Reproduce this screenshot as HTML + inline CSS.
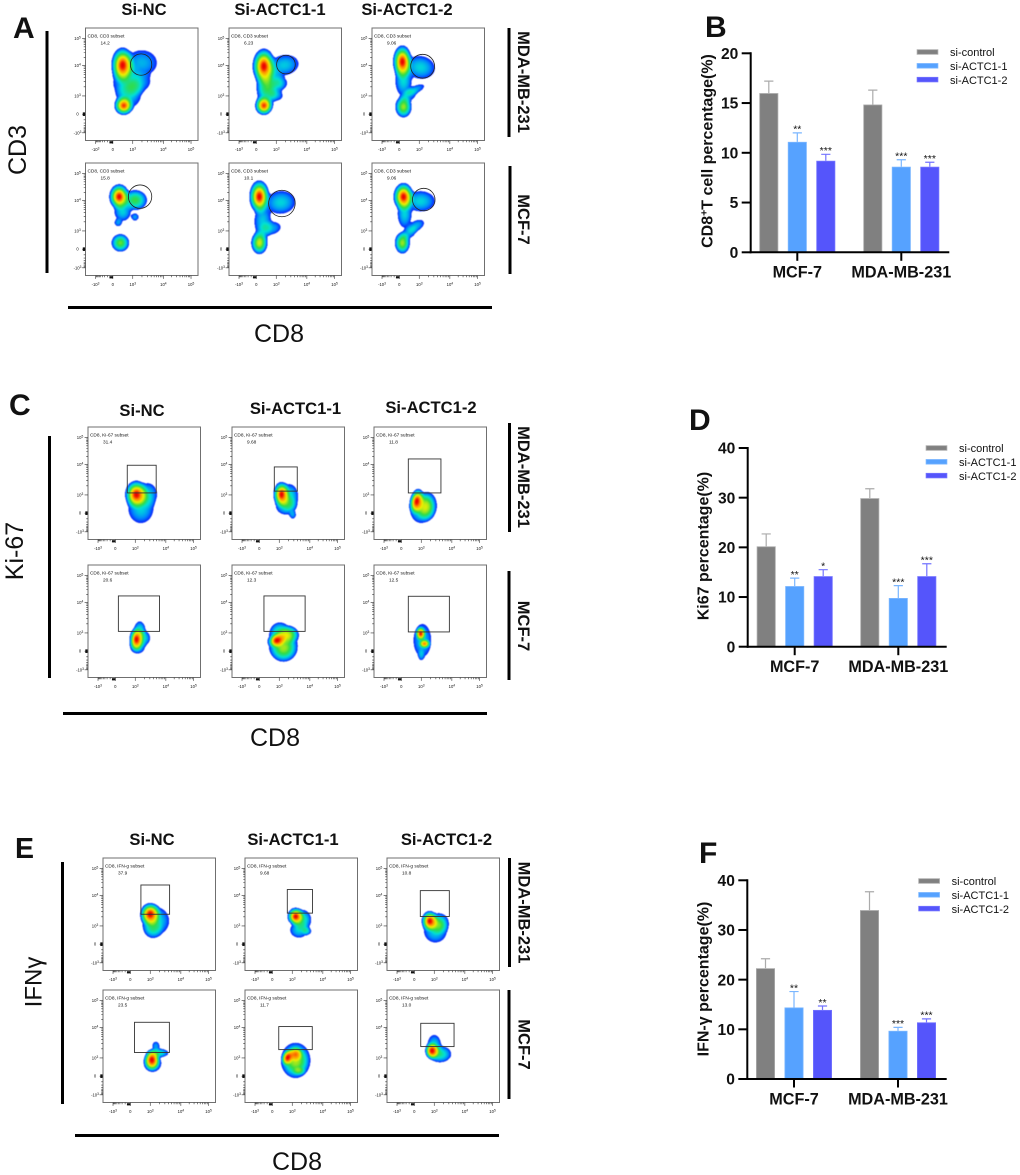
<!DOCTYPE html>
<html lang="en">
<head>
<meta charset="utf-8">
<title>CD8 flow cytometry panels</title>
<style>
html,body{margin:0;padding:0;background:#fff}
svg{display:block;filter:blur(.3px)}
text{font-family:"Liberation Sans",Arial,sans-serif;fill:#111}
.letter{font-size:30px;font-weight:700}
.col{font-size:16.6px;font-weight:700;text-anchor:middle}
.side{font-size:16.5px;font-weight:700;text-anchor:middle}
.marker{font-size:25px;text-anchor:middle}
</style>
</head>
<body>
<svg id="fig" xmlns="http://www.w3.org/2000/svg" width="1020" height="1175" viewBox="0 0 1020 1175">
<defs>
<radialGradient id="blob-gradient"></radialGradient>
<filter id="density-filter" x="0" y="0" width="100%" height="100%" color-interpolation-filters="sRGB">
<feColorMatrix type="matrix" values="0 0 0 1 0 0 0 0 1 0 0 0 0 1 0 0 0 0 0 1"/>
<feComponentTransfer><feFuncR id="tableR" type="table"/><feFuncG id="tableG" type="table"/><feFuncB id="tableB" type="table"/></feComponentTransfer>
<feGaussianBlur stdDeviation="0.6"/>
</filter>
</defs>
<rect width="1020" height="1175" fill="#fff"/>

<text class="letter" x="13" y="38">A</text>
<text class="letter" x="705" y="37">B</text>
<text class="letter" x="9" y="415">C</text>
<text class="letter" x="689" y="430">D</text>
<text class="letter" x="15" y="858" style="font-size:28.5px">E</text>
<text class="letter" x="699" y="863">F</text>

<text class="col" x="144" y="15">Si-NC</text>
<text class="col" x="280" y="15">Si-ACTC1-1</text>
<text class="col" x="407" y="15">Si-ACTC1-2</text>
<text class="col" x="142" y="416">Si-NC</text>
<text class="col" x="295.5" y="414">Si-ACTC1-1</text>
<text class="col" x="431" y="413">Si-ACTC1-2</text>
<text class="col" x="152" y="845">Si-NC</text>
<text class="col" x="293" y="845">Si-ACTC1-1</text>
<text class="col" x="446.5" y="845">Si-ACTC1-2</text>

<rect x="45.5" y="31" width="3" height="242" fill="#000"/>
<rect x="48" y="436" width="3" height="242" fill="#000"/>
<rect x="61" y="862" width="3" height="242" fill="#000"/>
<text class="marker" transform="translate(26 150) rotate(-90)">CD3</text>
<text class="marker" transform="translate(23 551) rotate(-90)">Ki-67</text>
<text class="marker" transform="translate(41.5 982) rotate(-90)" style="font-size:24px">IFNγ</text>

<rect x="68" y="306" width="424" height="3" fill="#000"/>
<rect x="63" y="712" width="424" height="3" fill="#000"/>
<rect x="75" y="1134" width="424" height="3" fill="#000"/>
<text class="marker" x="279" y="342">CD8</text>
<text class="marker" x="275" y="746">CD8</text>
<text class="marker" x="297" y="1170">CD8</text>

<rect x="507.5" y="28" width="3" height="109" fill="#000"/>
<rect x="508.5" y="166" width="3" height="108" fill="#000"/>
<rect x="508" y="423" width="3" height="109" fill="#000"/>
<rect x="507.5" y="571" width="3" height="109" fill="#000"/>
<rect x="508" y="858" width="3" height="109" fill="#000"/>
<rect x="507.5" y="990" width="3" height="109" fill="#000"/>
<text class="side" transform="translate(518 82) rotate(90)">MDA-MB-231</text>
<text class="side" transform="translate(518 219.5) rotate(90)">MCF-7</text>
<text class="side" transform="translate(518 477) rotate(90)">MDA-MB-231</text>
<text class="side" transform="translate(518 626) rotate(90)">MCF-7</text>
<text class="side" transform="translate(518.5 912.5) rotate(90)">MDA-MB-231</text>
<text class="side" transform="translate(518.5 1044.5) rotate(90)">MCF-7</text>
</svg>

<script>
/* ---------- bar chart data ---------- */
const groupLabels = ['MCF-7', 'MDA-MB-231'];
const seriesLabels = ['si-control', 'si-ACTC1-1', 'si-ACTC1-2'];

const cd8Ticks = [0, 5, 10, 15, 20];
const cd8Control = [16, 14.85];
const cd8Actc1 = [11.1, 8.6];
const cd8Actc2 = [9.2, 8.6];
const cd8ControlErr = [1.2, 1.45];
const cd8Actc1Err = [0.9, 0.7];
const cd8Actc2Err = [0.65, 0.45];
const cd8Stars = [['', ''], ['**', '***'], ['***', '***']];

const ki67Ticks = [0, 10, 20, 30, 40];
const ki67Control = [20.2, 29.9];
const ki67Actc1 = [12.2, 9.8];
const ki67Actc2 = [14.2, 14.2];
const ki67ControlErr = [2.5, 1.9];
const ki67Actc1Err = [1.6, 2.5];
const ki67Actc2Err = [1.3, 2.5];
const ki67Stars = [['', ''], ['**', '***'], ['*', '***']];

const ifngTicks = [0, 10, 20, 30, 40];
const ifngControl = [22.3, 34];
const ifngActc1 = [14.4, 9.7];
const ifngActc2 = [13.9, 11.4];
const ifngControlErr = [1.9, 3.7];
const ifngActc1Err = [3.2, 0.7];
const ifngActc2Err = [0.8, 0.7];
const ifngStars = [['', ''], ['**', '***'], ['**', '***']];

/* ---------- flow plot axis labels (percent of plot extent) ---------- */
const flowDecadeNames = ['-10', '0', '10', '10', '10'];
const flowDecadeExps = ['3', '', '3', '4', '5'];
const flowXDecades = [8.9, 24.3, 42, 69.2, 93.8];
const flowYDecades = [93.2, 76.6, 60.4, 33.4, 9.5];

/* ---------- flow plots: gate and density blobs [cx, cy, rx, ry, rot, peak] in percent of plot ---------- */
const cd3Percent = [['14.2', '6.23', '9.06'], ['15.8', '10.1', '9.06']];
const ki67Percent = [['31.4', '9.68', '11.8'], ['20.6', '12.3', '12.5']];
const ifngPercent = [['37.9', '9.68', '10.8'], ['23.5', '11.7', '13.0']];

const cd3Gates = [
  [[49.4, 32.5, 9.5], [50.6, 32.5, 8.3], [45, 34, 10.6]],
  [[48.5, 29.9, 10.4], [47, 36, 11.8], [46, 32.5, 10]]
];
const ki67Gates = [
  [[34.9, 34, 60.6, 58.6], [37.6, 35.5, 58, 57], [30.5, 28.4, 59.5, 58.6]],
  [[27, 27.5, 63.6, 59], [28.4, 27.5, 65, 59], [30.5, 27.8, 67, 59.5]]
];
const ifngGates = [
  [[33.7, 24, 59.2, 50], [37.6, 28, 60, 49], [29.6, 29, 55.4, 52]],
  [[28, 28.7, 59, 55.6], [30, 32.5, 59.8, 53], [30, 29.6, 59.6, 50.3]]
];

const cd3Blobs = [[
  [[33,33,9,14,0,1],[37,48,11,13,0,.42],[34,69,7.5,7.5,0,.95],[50,31,12,10,0,.34],[48,49,9,7,-30,.32],[39,60,9,10,25,.32]],
  [[31,34,9,14,0,1],[36,48,10,12,0,.5],[31,69,7,7.5,0,.95],[33,58,7,12,0,.38],[49,33,11.5,8,-10,.38],[46,49,5,5,0,.3],[42,60,5,4,0,.3]],
  [[27,30,7.5,13,0,1],[28,46,6.5,13,0,.42],[28,70,6.5,8.5,0,.7],[43,35,11.5,9,10,.4],[38,55,8,3,-25,.32],[33,60,6,4,-35,.28]]
],[
  [[30,30,8,10,0,1],[44,33,9.5,8,0,.6],[33,43,6.5,7.5,0,.4],[29,53,2.8,2.8,0,.3],[44,48,2.8,2.8,0,.3],[31,71,7,7,35,.65]],
  [[27,30,8,13,0,1],[46,35,11.5,9,-5,.4],[30,52,6.5,13,0,.38],[37,58,8,5,-10,.34],[27,71,6.5,9,0,.75]],
  [[28,30,8,11,0,1],[43,34,11.5,8,0,.4],[29,45,5.5,11,0,.4],[27,71,6,8.5,0,.7],[39,56,7,4,-30,.34],[33,62,6,4,-35,.32]]
]];
const ki67Blobs = [[
  [[43,60,9,11,0,1],[47,72,10,12,0,.4],[53,60,7.5,9,0,.4]],
  [[44,60,6.5,10,0,1],[51,62,7,10,0,.45],[48,70,8,7,0,.45],[54,78,2.5,3,0,.3]],
  [[38,66,5.5,10,10,1],[47,70,8,11,0,.6],[42,73,9,11,0,.5]]
],[
  [[43,66,5.5,9,0,1],[46,58,4.5,7,0,.45],[49,65,5.5,6,0,.45],[44,72,6,6,0,.45]],
  [[40,67,7,5.5,-20,1],[50,62,8,6.5,0,.65],[46,74,10,10,0,.6],[42,60,6.5,7,0,.4],[45,68,11,13,0,.3]],
  [[41.5,61,4,5.5,0,.98],[45,70,4.5,3.6,0,.85],[43,67,7,13,0,.38],[42,80,2,3.6,0,.25]]
]];
const ifngBlobs = [[
  [[42,50,8,9,0,1],[47,56,10.5,11,0,.45],[44,63,6.5,7,0,.35]],
  [[45,52,6.5,7,0,1],[51,55,7,8,0,.5],[48,64,7,6,0,.4],[55,65,3.5,2.8,0,.35]],
  [[38,56,6.5,8,0,1],[46,58,8,8,0,.55],[43,65,9,9,0,.4]]
],[
  [[43.5,62,6,8,0,1],[47,50,2.8,3.6,0,.3],[49,56,8,3.6,0,.5],[44,65,7,7,0,.5]],
  [[38,60,4.5,6.5,20,1],[45,57,5.5,5.5,0,.8],[45,63,10,12,0,.6],[48,72,4.5,2.8,0,.4],[45,62,11,13,0,.3]],
  [[40,54,5.5,6.5,0,1],[42,50,5.5,9,0,.42],[47,57,9,6.5,0,.5]]
]];

/* ---------- helpers ---------- */
const SVG_NS = 'http://www.w3.org/2000/svg';
const fig = document.getElementById('fig');
function mk(tag, attrs, parent) {
  const n = document.createElementNS(SVG_NS, tag);
  for (const k in attrs) n.setAttribute(k, attrs[k]);
  (parent || fig).appendChild(n);
  return n;
}

/* ---------- density colour map ---------- */
const EDGE = 0.12;
const jetStops = [[EDGE,[10,30,250]],[.25,[0,130,255]],[.42,[0,225,215]],[.6,[50,220,70]],[.78,[240,240,0]],[.9,[255,140,0]],[.98,[240,15,0]],[1,[230,0,0]]];
function jet(v) {
  if (v < EDGE) return [255, 255, 255];
  for (let i = 1; i < jetStops.length; i++) {
    if (v <= jetStops[i][0]) {
      const a = jetStops[i - 1], b = jetStops[i], t = (v - a[0]) / (b[0] - a[0]);
      return a[1].map((c, j) => c + (b[1][j] - c) * t);
    }
  }
  return jetStops[jetStops.length - 1][1];
}
const tableSteps = 128;
const channels = [[], [], []];
for (let i = 0; i <= tableSteps; i++) {
  const c = jet(i / tableSteps);
  channels[0].push((c[0] / 255).toFixed(3));
  channels[1].push((c[1] / 255).toFixed(3));
  channels[2].push((c[2] / 255).toFixed(3));
}
document.getElementById('tableR').setAttribute('tableValues', channels[0].join(' '));
document.getElementById('tableG').setAttribute('tableValues', channels[1].join(' '));
document.getElementById('tableB').setAttribute('tableValues', channels[2].join(' '));
const blobGradient = document.getElementById('blob-gradient');
for (let i = 0; i <= 10; i++) {
  const t = i / 10, f = Math.pow(1 - t * t, 1.5);
  mk('stop', {offset: t, 'stop-color': '#000', 'stop-opacity': f.toFixed(3)}, blobGradient);
}

/* ---------- flow plots ---------- */
const PLOT = 112.5;
const BLOB_GROW = 1.12;
const flowPanels = [
  {key: 'cd3', title: 'CD8, CD3 subset', xs: [85.5, 229, 372], ys: [28, 163], blobs: cd3Blobs, gates: cd3Gates, pct: cd3Percent},
  {key: 'ki67', title: 'CD8, Ki-67 subset', xs: [88, 232, 374], ys: [427, 565], blobs: ki67Blobs, gates: ki67Gates, pct: ki67Percent},
  {key: 'ifng', title: 'CD8, IFN-g subset', xs: [103, 245, 387], ys: [858, 990], blobs: ifngBlobs, gates: ifngGates, pct: ifngPercent}
];
function tickLabel(x, y, base, exp, parent) {
  const t = mk('text', {x: x, y: y, 'text-anchor': 'middle', 'font-size': 4.2, fill: '#333'}, parent);
  
  
  t.textContent = base;
  if (exp) {
    const s = mk('tspan', {dy: -1.6, 'font-size': 3.2}, t);
    s.textContent = exp;
  }
}
function logMinors(a, b) {
  const out = [];
  for (let m = 2; m < 10; m++) out.push(a + (b - a) * Math.log10(m));
  return out;
}
flowPanels.forEach(function (panel) {
  panel.ys.forEach(function (y0, r) {
    panel.xs.forEach(function (x0, c) {
      const flowX = v => x0 + v / 100 * PLOT;
      const flowY = v => y0 + v / 100 * PLOT;
      const g = mk('g', {});
      
      

      const density = mk('g', {filter: 'url(#density-filter)'}, g);
      
      
      mk('rect', {x: x0, y: y0, width: PLOT, height: PLOT, fill: 'none'}, density);
      panel.blobs[r][c].forEach(function (b) {
        const peak = b[5];
        const span = Math.sqrt(1 - Math.pow(Math.min(EDGE / peak, 0.95), 2 / 3));
        const rx = BLOB_GROW * b[2] / 100 * PLOT / span, ry = BLOB_GROW * b[3] / 100 * PLOT / span;
        const cx = flowX(b[0]), cy = flowY(b[1]);
        mk('ellipse', {cx: cx, cy: cy, rx: rx, ry: ry, fill: 'url(#blob-gradient)', opacity: peak, transform: 'rotate(' + b[4] + ' ' + cx + ' ' + cy + ')'}, density);
      });

      const frame = mk('rect', {x: x0, y: y0, width: PLOT, height: PLOT, fill: 'none', stroke: '#6f6f6f', 'stroke-width': 1}, g);
      
      

      const gate = panel.gates[r][c];
      let gateShape;
      if (gate.length === 3) {
        gateShape = mk('circle', {cx: flowX(gate[0]), cy: flowY(gate[1]), r: gate[2] / 100 * PLOT, fill: 'none', stroke: '#222', 'stroke-width': .8}, g);
      } else {
        gateShape = mk('rect', {x: flowX(gate[0]), y: flowY(gate[1]), width: (gate[2] - gate[0]) / 100 * PLOT, height: (gate[3] - gate[1]) / 100 * PLOT, fill: 'none', stroke: '#333', 'stroke-width': .9}, g);
      }
      
      

      const title = mk('text', {x: x0 + 2, y: y0 + 9.5, 'font-size': 4.75, fill: '#222'}, g);
      
      
      title.textContent = panel.title;
      const pct = mk('text', {x: x0 + 15, y: y0 + 16.5, 'font-size': 4.75, fill: '#222'}, g);
      
      
      pct.textContent = panel.pct[r][c];

      let ticks = '';
      flowXDecades.forEach(function (v, i) {
        const px = flowX(v);
        ticks += 'M' + px + ' ' + (y0 + PLOT) + 'v3.4';
        tickLabel(px, y0 + PLOT + 10.5, flowDecadeNames[i], flowDecadeExps[i], g);
      });
      flowYDecades.forEach(function (v, i) {
        const py = flowY(v);
        ticks += 'M' + (x0 - 3.4) + ' ' + py + 'h3.4';
        tickLabel(x0 - 8, py + 1.5, flowDecadeNames[i], flowDecadeExps[i], g);
      });
      [[flowXDecades[2], flowXDecades[3]], [flowXDecades[3], flowXDecades[4]]].forEach(function (pair) {
        logMinors(pair[0], pair[1]).forEach(function (v) { ticks += 'M' + flowX(v) + ' ' + (y0 + PLOT) + 'v1.8'; });
      });
      [[flowYDecades[2], flowYDecades[3]], [flowYDecades[3], flowYDecades[4]]].forEach(function (pair) {
        logMinors(pair[0], pair[1]).forEach(function (v) { ticks += 'M' + (x0 - 1.8) + ' ' + flowY(v) + 'h1.8'; });
      });
      logMinors(flowXDecades[1], flowXDecades[0]).forEach(function (v) { ticks += 'M' + flowX(v) + ' ' + (y0 + PLOT) + 'v1.8'; });
      logMinors(flowYDecades[1], flowYDecades[0]).forEach(function (v) { ticks += 'M' + (x0 - 1.8) + ' ' + flowY(v) + 'h1.8'; });
      const tickPath = mk('path', {d: ticks, stroke: '#333', 'stroke-width': .6, fill: 'none'}, g);
      
      
      const clumpX = mk('rect', {x: flowX(flowXDecades[1]) - 3.4, y: y0 + PLOT + .7, width: 3.6, height: 2.2, fill: '#111'}, g);
      
      
      const clumpY = mk('rect', {x: x0 - 2.7, y: flowY(flowYDecades[1]) - 1.8, width: 2.2, height: 3.6, fill: '#111'}, g);
      
      
    });
  });
});

/* ---------- bar charts ---------- */
const seriesFill = ['#808080', '#56a2ff', '#5555fb'];
const seriesEdge = ['#ababab', '#7ab6ff', '#7474ff'];
const barCharts = [
  {key: 'cd8', axisX: 750.7, y0: 252.3, yTop: 53.3, xEnd: 949.3, first: 768.8, second: 872.8,
   ticks: cd8Ticks, values: [cd8Control, cd8Actc1, cd8Actc2], errs: [cd8ControlErr, cd8Actc1Err, cd8Actc2Err], stars: cd8Stars,
   titleX: 712.5, titleY: 151, title: ['CD8', '+', 'T cell percentage(%)'], legendX: 916.7, legendYs: 52.3},
  {key: 'ki67', axisX: 747.7, y0: 646.7, yTop: 448, xEnd: 946.7, first: 766.2, second: 869.8,
   ticks: ki67Ticks, values: [ki67Control, ki67Actc1, ki67Actc2], errs: [ki67ControlErr, ki67Actc1Err, ki67Actc2Err], stars: ki67Stars,
   titleX: 708.5, titleY: 546, title: ['Ki67 percentage(%)'], legendX: 925.7, legendYs: 448.3},
  {key: 'ifng', axisX: 747.3, y0: 1079, yTop: 880.3, xEnd: 946.7, first: 765.5, second: 869.5,
   ticks: ifngTicks, values: [ifngControl, ifngActc1, ifngActc2], errs: [ifngControlErr, ifngActc1Err, ifngActc2Err], stars: ifngStars,
   titleX: 708.5, titleY: 979, title: ['IFN-γ percentage(%)'], legendX: 918.3, legendYs: 881.3}
];
const BAR_W = 19, BAR_STEP = 28.5, CAP = 9.2, LEGEND_STEP = 13.8;
barCharts.forEach(function (ch) {
  const yMax = ch.ticks[ch.ticks.length - 1];
  const yScale = v => ch.y0 - v / yMax * (ch.y0 - ch.yTop);
  const xScale = (g, s) => (g === 0 ? ch.first : ch.second) + s * BAR_STEP;
  const root = mk('g', {});
  
  

  ch.values.forEach(function (series, s) {
    series.forEach(function (v, g) {
      const cx = xScale(g, s), top = yScale(v), errTop = yScale(v + ch.errs[s][g]);
      const err = mk('path', {d: 'M' + cx + ' ' + top + 'V' + errTop + 'M' + (cx - CAP / 2) + ' ' + errTop + 'H' + (cx + CAP / 2), stroke: seriesEdge[s], 'stroke-width': 1.2, fill: 'none'}, root);
      
      
      const bar = mk('rect', {x: cx - BAR_W / 2 + .4, y: top + .4, width: BAR_W - .8, height: Math.max(ch.y0 - top - .4, 0), fill: seriesFill[s], stroke: seriesEdge[s], 'stroke-width': .8}, root);
      
      
      if (ch.stars[s][g]) {
        const star = mk('text', {x: cx, y: errTop - .2, 'text-anchor': 'middle', 'font-size': 10.5, fill: '#222'}, root);
        
        
        star.textContent = ch.stars[s][g];
      }
    });
  });

  const yAxis = mk('line', {x1: ch.axisX, x2: ch.axisX, y1: ch.yTop - 1, y2: ch.y0 + 1, stroke: '#000', 'stroke-width': 2}, root);
  
  
  const xAxis = mk('line', {x1: ch.axisX - 1, x2: ch.xEnd, y1: ch.y0, y2: ch.y0, stroke: '#000', 'stroke-width': 2}, root);
  
  

  ch.ticks.forEach(function (v) {
    const ty = yScale(v);
    const tk = mk('line', {x1: ch.axisX - 9, x2: ch.axisX, y1: ty, y2: ty, stroke: '#000', 'stroke-width': 2}, root);
    
    
    const lb = mk('text', {x: ch.axisX - 12.4, y: ty + 5.6, 'text-anchor': 'end', 'font-size': 15.6, 'font-weight': 700}, root);
    
    
    lb.textContent = v;
  });

  groupLabels.forEach(function (name, g) {
    const cx = xScale(g, 1);
    const tk = mk('line', {x1: cx, x2: cx, y1: ch.y0, y2: ch.y0 + 8.5, stroke: '#000', 'stroke-width': 2}, root);
    
    
    const lb = mk('text', {x: cx, y: ch.y0 + 25.4, 'text-anchor': 'middle', 'font-size': 16.2, 'font-weight': 700}, root);
    
    
    lb.textContent = name;
  });

  const title = mk('text', {'text-anchor': 'middle', 'font-size': 16, 'font-weight': 700, transform: 'translate(' + ch.titleX + ' ' + ch.titleY + ') rotate(-90)'}, root);
  
  
  if (ch.title.length === 3) {
    const a = mk('tspan', {}, title);
    a.textContent = ch.title[0];
    const b = mk('tspan', {dy: -5, 'font-size': 10.5}, title);
    b.textContent = ch.title[1];
    const d = mk('tspan', {dy: 5}, title);
    d.textContent = ch.title[2];
  } else {
    title.textContent = ch.title[0];
  }

  seriesLabels.forEach(function (name, s) {
    const ly = ch.legendYs + s * LEGEND_STEP;
    const sw = mk('rect', {x: ch.legendX + .4, y: ly - 2.6, width: 20.8, height: 4.6, fill: seriesFill[s], stroke: seriesEdge[s], 'stroke-width': .8}, root);
    
    
    const lb = mk('text', {x: ch.legendX + 33.3, y: ly + 3.9, 'font-size': 11, fill: '#333'}, root);
    
    
    lb.textContent = name;
  });
});
</script>
</body>
</html>
